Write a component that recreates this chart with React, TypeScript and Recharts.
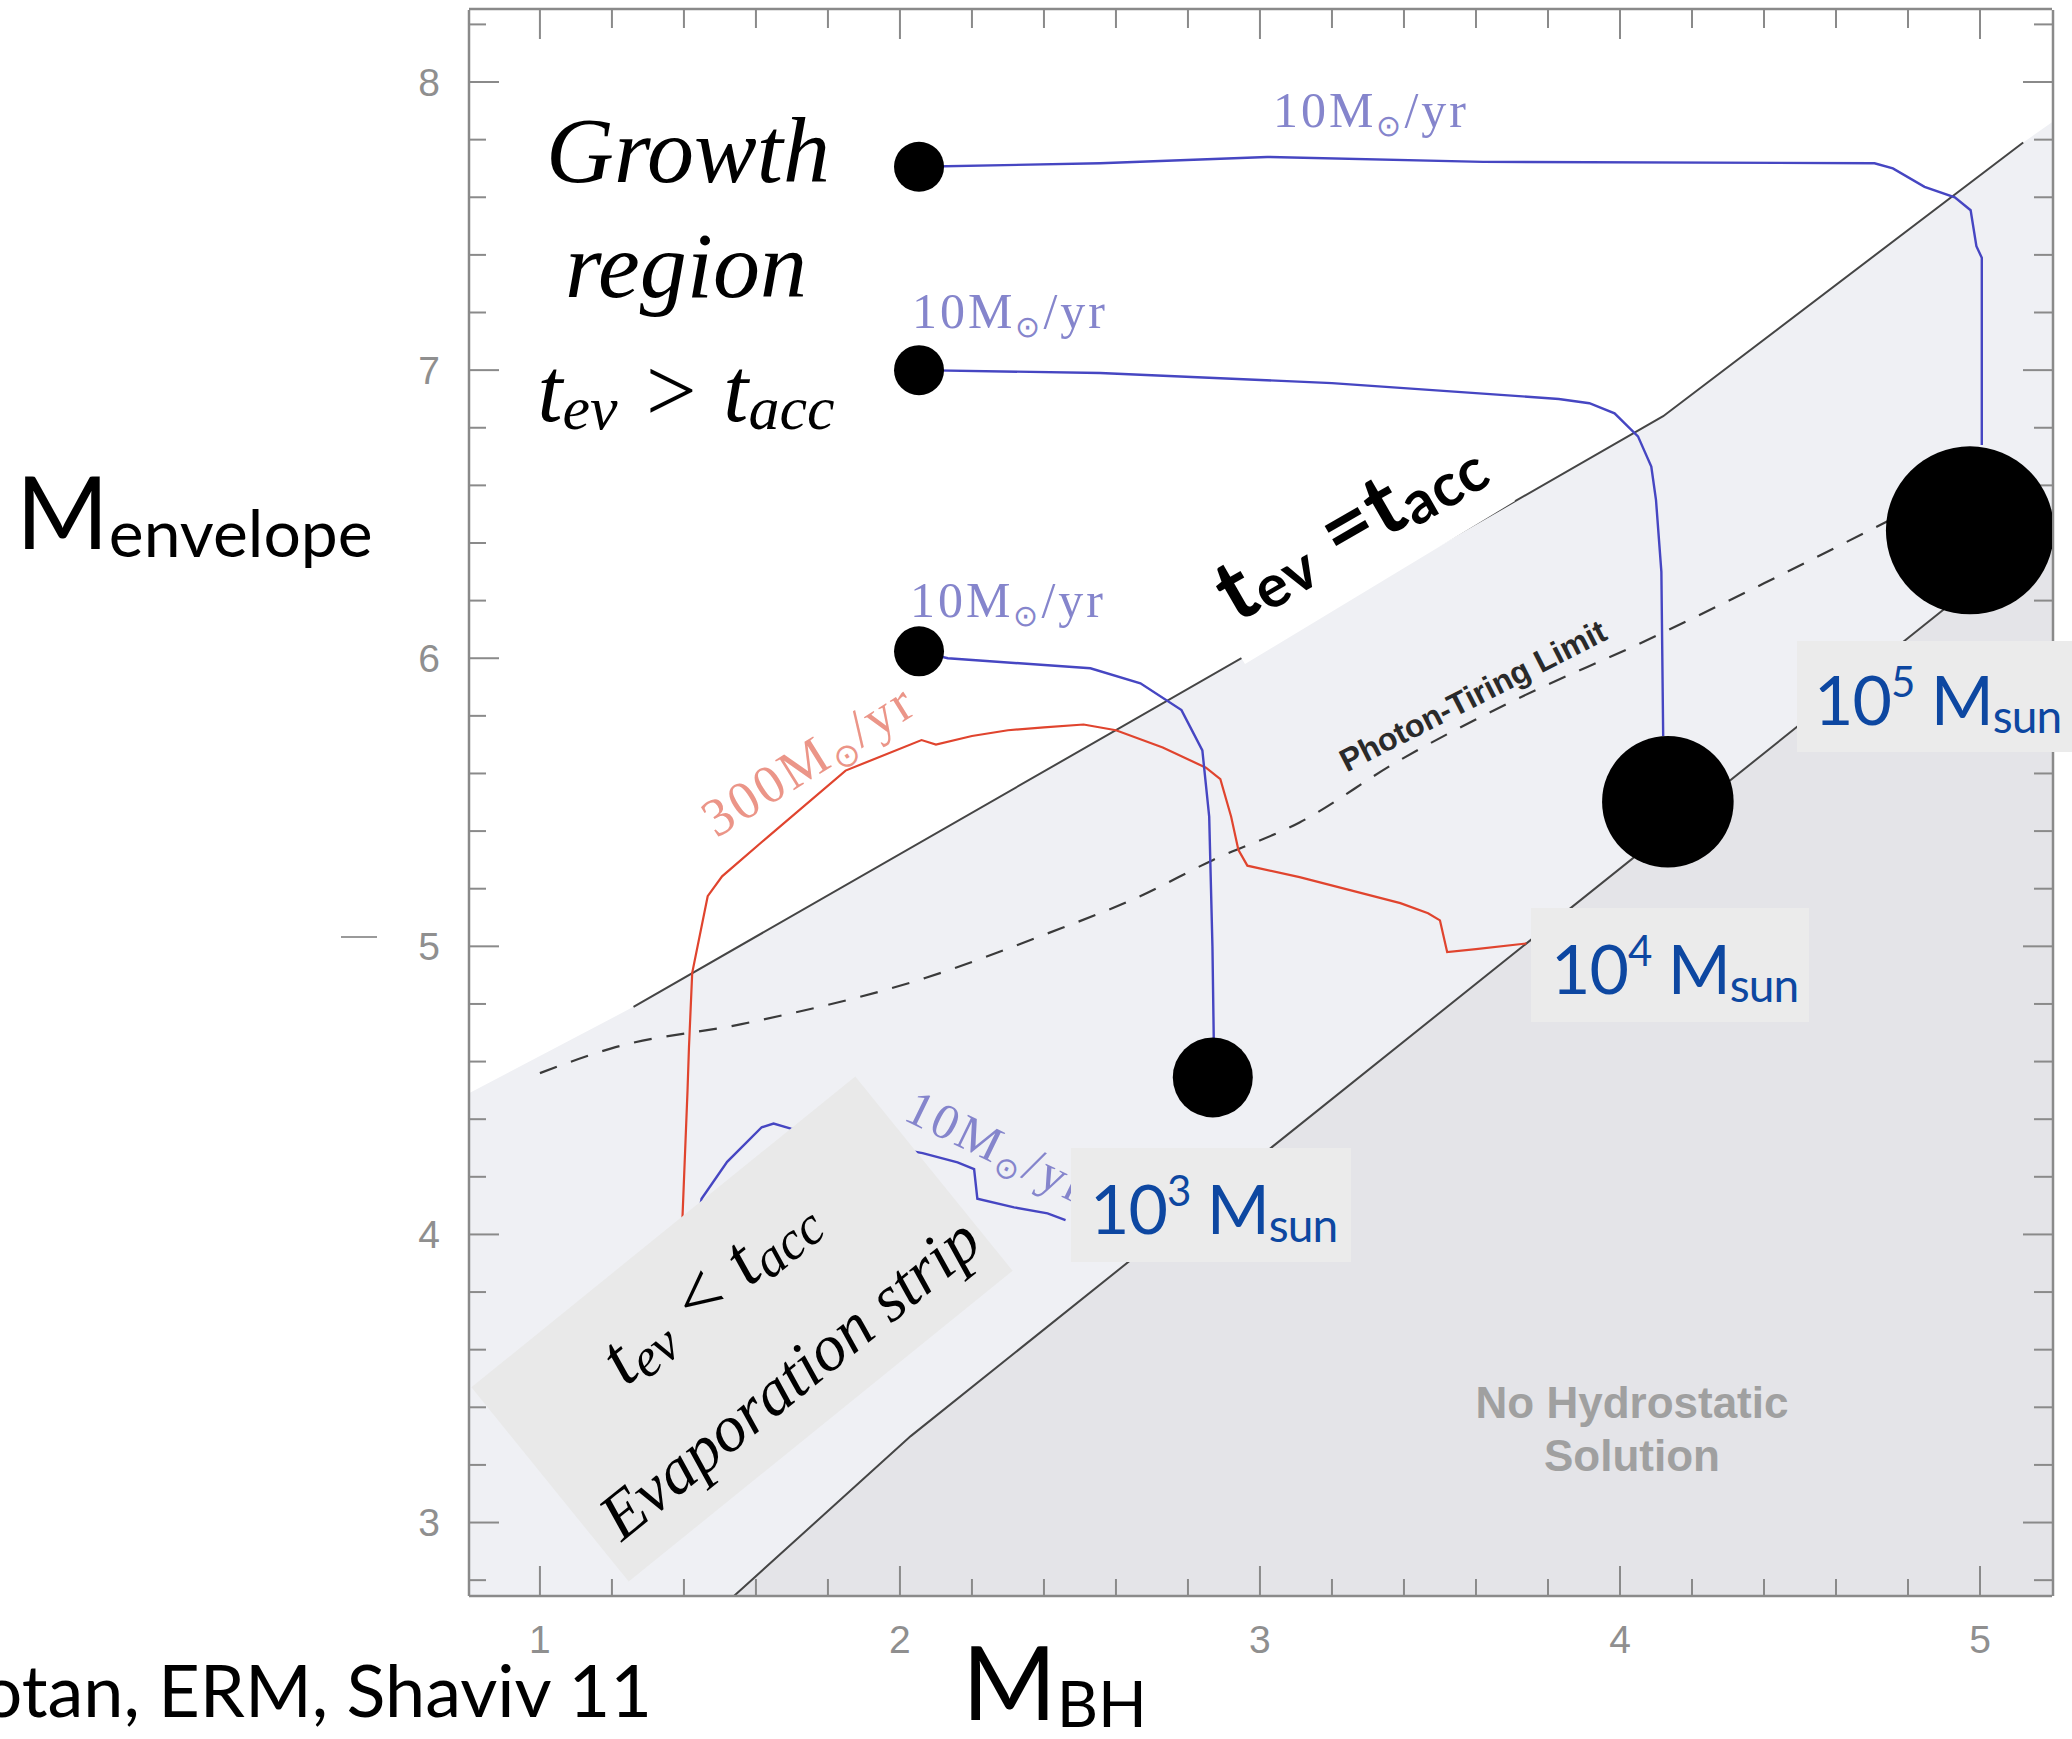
import React from "react";
import { ComposedChart, Line, Area, Scatter, XAxis, YAxis, ZAxis } from "recharts";

const W = 2072;
const H = 1739;

const xDomain: [number, number] = [0.803, 5.2];
const yDomain: [number, number] = [2.745, 8.25];

const xMajorTicks = [1, 2, 3, 4, 5];
const xMinorTicks = [1.2, 1.4, 1.6, 1.8, 2.2, 2.4, 2.6, 2.8, 3.2, 3.4, 3.6, 3.8, 4.2, 4.4, 4.6, 4.8];
const yMajorTicks = [3, 4, 5, 6, 7, 8];
const yMinorTicks = [2.8, 3.2, 3.4, 3.6, 3.8, 4.2, 4.4, 4.6, 4.8, 5.2, 5.4, 5.6, 5.8, 6.2, 6.4, 6.6, 6.8, 7.2, 7.4, 7.6, 7.8, 8.2];

// region edges
const growthBandEdge = [
  { x: 0.803, y: 4.49 },
  { x: 1.26, y: 4.79 },
  { x: 4.12, y: 6.84 },
  { x: 5.12, y: 7.79 },
  { x: 5.2, y: 7.86 },
];
const equalTimesLine = [
  { x: 1.26, y: 4.79 },
  { x: 4.12, y: 6.84 },
  { x: 5.12, y: 7.79 },
];
const hydrostaticEdge = [
  { x: 1.539, y: 2.745 },
  { x: 2.03, y: 3.3 },
  { x: 5.2, y: 6.47 },
];
const photonTiring = [
  { x: 1.0, y: 4.56 }, { x: 1.21, y: 4.65 }, { x: 1.56, y: 4.73 }, { x: 2.07, y: 4.89 },
  { x: 2.4, y: 5.04 }, { x: 2.66, y: 5.17 }, { x: 2.87, y: 5.3 }, { x: 3.11, y: 5.43 },
  { x: 3.38, y: 5.64 }, { x: 3.7, y: 5.85 }, { x: 4.07, y: 6.06 }, { x: 4.4, y: 6.26 },
  { x: 4.75, y: 6.48 }, { x: 5.0, y: 6.64 },
];

// evolution tracks
const trackTop = [
  { x: 2.053, y: 7.706 }, { x: 2.556, y: 7.718 }, { x: 3.02, y: 7.74 }, { x: 3.62, y: 7.723 },
  { x: 4.707, y: 7.718 }, { x: 4.758, y: 7.7 }, { x: 4.846, y: 7.636 }, { x: 4.93, y: 7.6 },
  { x: 4.974, y: 7.555 }, { x: 4.99, y: 7.43 }, { x: 5.005, y: 7.39 }, { x: 5.005, y: 6.74 },
];
const trackMid = [
  { x: 2.053, y: 7.0 }, { x: 2.556, y: 6.99 }, { x: 3.2, y: 6.955 }, { x: 3.83, y: 6.9 },
  { x: 3.915, y: 6.885 }, { x: 3.985, y: 6.85 }, { x: 4.05, y: 6.77 }, { x: 4.087, y: 6.665 },
  { x: 4.1, y: 6.55 }, { x: 4.115, y: 6.3 }, { x: 4.12, y: 5.73 },
];
const trackLow = [
  { x: 2.053, y: 6.024 }, { x: 2.133, y: 6.0 }, { x: 2.529, y: 5.965 }, { x: 2.668, y: 5.913 },
  { x: 2.782, y: 5.82 }, { x: 2.84, y: 5.68 }, { x: 2.859, y: 5.45 }, { x: 2.868, y: 5.0 },
  { x: 2.872, y: 4.65 },
];
const trackSmall = [
  { x: 1.44, y: 4.06 }, { x: 1.449, y: 4.124 }, { x: 1.52, y: 4.252 }, { x: 1.616, y: 4.372 },
  { x: 1.649, y: 4.385 }, { x: 1.697, y: 4.367 }, { x: 1.85, y: 4.33 }, { x: 2.063, y: 4.282 },
  { x: 2.16, y: 4.25 }, { x: 2.206, y: 4.227 }, { x: 2.215, y: 4.124 }, { x: 2.317, y: 4.094 },
  { x: 2.41, y: 4.073 }, { x: 2.46, y: 4.05 },
];
const track300 = [
  { x: 1.39, y: 3.9 }, { x: 1.396, y: 4.06 }, { x: 1.41, y: 4.5 }, { x: 1.414, y: 4.65 },
  { x: 1.423, y: 4.908 }, { x: 1.466, y: 5.174 }, { x: 1.506, y: 5.243 }, { x: 1.634, y: 5.381 },
  { x: 1.849, y: 5.61 }, { x: 2.06, y: 5.716 }, { x: 2.1, y: 5.7 }, { x: 2.2, y: 5.73 },
  { x: 2.3, y: 5.75 }, { x: 2.4, y: 5.76 }, { x: 2.51, y: 5.77 }, { x: 2.6, y: 5.75 },
  { x: 2.73, y: 5.69 }, { x: 2.85, y: 5.62 }, { x: 2.89, y: 5.58 }, { x: 2.92, y: 5.45 },
  { x: 2.94, y: 5.335 }, { x: 2.965, y: 5.28 }, { x: 3.11, y: 5.24 }, { x: 3.39, y: 5.15 },
  { x: 3.467, y: 5.115 }, { x: 3.5, y: 5.09 }, { x: 3.52, y: 4.98 }, { x: 3.6, y: 4.99 },
  { x: 3.74, y: 5.01 },
];

const startPoints = [
  { x: 2.053, y: 7.706 },
  { x: 2.053, y: 7.0 },
  { x: 2.053, y: 6.024 },
];
const finalHoles = [
  { x: 2.869, y: 4.545, logM: 3 },
  { x: 4.133, y: 5.502, logM: 4 },
  { x: 4.972, y: 6.444, logM: 5 },
];

const AXIS = "#8a8a8a";
const BLUE = "#4646c2";
const RED = "#e0442e";
const SERIF = "'Liberation Serif', 'Times New Roman', serif";
const SANS = "Lato, 'Noto Sans', sans-serif";

const tickFont = { fill: "#8f8f8f", fontSize: 39, fontFamily: "'Liberation Sans', Arial, sans-serif" };
const noLabel = () => <g />;
const tickStroke = { stroke: AXIS, strokeWidth: 2 };

const RateLabel = ({ x, y, rate, color, angle = 0, fontSize = 50 }: any) => (
  <text
    x={x}
    y={y}
    transform={`rotate(${angle} ${x} ${y})`}
    textAnchor="middle"
    fill={color}
    fontFamily={SERIF}
    fontSize={fontSize}
    letterSpacing={3}
  >
    {rate}M
    <tspan fontSize={fontSize * 0.6} dy={fontSize * 0.18}>⊙</tspan>
    <tspan dy={-fontSize * 0.18}>/yr</tspan>
  </text>
);

const MassLabel = ({ box, tx, ty, exp }: any) => (
  <g>
    <rect x={box[0]} y={box[1]} width={box[2]} height={box[3]} fill="#ebebeb" />
    <text x={tx} y={ty} fill="#0d47a1" fontFamily={SANS} fontSize={68} letterSpacing={-1}>
      10
      <tspan fontSize={42} dy={-28}>{exp}</tspan>
      <tspan fontSize={68} dy={28}> M</tspan>
      <tspan fontSize={46} dy={8}>sun</tspan>
    </text>
  </g>
);

const Overlay = () => (
  <svg width={W} height={H} style={{ position: "absolute", left: 0, top: 0, pointerEvents: "none" }}>
    {/* t_ev = t_acc label with its white backing */}
    <polygon points="1245,664 1515,501 1462,414 1192,577" fill="#ffffff" />
    <g transform="translate(1236,624) rotate(-30)">
      <text x={0} y={0} fill="#000" fontFamily={SANS} fontWeight="bold" fontSize={86} letterSpacing={1}>
        t<tspan fontSize={60} dy={6}>ev</tspan>
        <tspan fontSize={86} dy={-6}> =t</tspan>
        <tspan fontSize={60} dy={6}>acc</tspan>
      </text>
    </g>

    <RateLabel x={1371} y={127} rate="10" color="#8585cc" />
    <RateLabel x={1010} y={328} rate="10" color="#8585cc" />
    <RateLabel x={1008} y={617} rate="10" color="#8585cc" />
    <RateLabel x={990} y={1162} rate="10" color="#8585cc" angle={26} />
    <RateLabel x={818} y={775} rate="300" color="#eb9588" angle={-32} fontSize={54} />

    <g transform="translate(1476,702) rotate(-27)">
      <text x={0} y={4} textAnchor="middle" fill="#2a2a2a" fontWeight="bold" fontSize={32}
        fontFamily="'Liberation Sans', Arial, sans-serif">
        Photon-Tiring Limit
      </text>
    </g>

    <text x={1632} y={1418} textAnchor="middle" fill="#a0a0a0" fontWeight="bold" fontSize={44}
      fontFamily="'Liberation Sans', Arial, sans-serif">No Hydrostatic</text>
    <text x={1632} y={1471} textAnchor="middle" fill="#a0a0a0" fontWeight="bold" fontSize={44}
      fontFamily="'Liberation Sans', Arial, sans-serif">Solution</text>

    {/* growth region note */}
    <g fill="#000" fontFamily={SERIF} fontStyle="italic" textAnchor="middle">
      <text x={688} y={182} fontSize={94}>Growth</text>
      <text x={686} y={297} fontSize={94}>region</text>
      <text x={686} y={421} fontSize={90}>
        t<tspan fontSize={62} dy={8}>ev</tspan>
        <tspan fontSize={90} dy={-8}> &gt; t</tspan>
        <tspan fontSize={62} dy={8}>acc</tspan>
      </text>
    </g>

    {/* evaporation strip */}
    <g transform="translate(742,1329) rotate(-39)">
      <rect x={-247} y={-125} width={494} height={250} fill="#e9e9e9" />
      <g fill="#000" fontFamily={SERIF} fontStyle="italic" textAnchor="middle">
        <text x={0} y={-28} fontSize={76}>
          t<tspan fontSize={54} dy={8}>ev</tspan>
          <tspan fontSize={76} dy={-8}> &lt; t</tspan>
          <tspan fontSize={54} dy={8}>acc</tspan>
        </text>
        <text x={6} y={90} fontSize={66}>Evaporation strip</text>
      </g>
    </g>

    <MassLabel box={[1071, 1148, 280, 114]} tx={1090} ty={1234} exp="3" />
    <MassLabel box={[1531, 908, 278, 114]} tx={1551} ty={994} exp="4" />
    <MassLabel box={[1797, 641, 275, 111]} tx={1814} ty={725} exp="5" />

    {/* axis titles and citation */}
    <text x={16} y={549} fill="#000" fontFamily={SANS}>
      <tspan fontSize={100}>M</tspan>
      <tspan fontSize={66} dy={8}>envelope</tspan>
    </text>
    <text x={962} y={1720} fill="#000" fontFamily={SANS}>
      <tspan fontSize={102}>M</tspan>
      <tspan fontSize={64} dy={7}>BH</tspan>
    </text>
    <text x={652} y={1717} textAnchor="end" fill="#000" fontFamily={SANS} fontSize={72}>
      Dotan, ERM, Shaviv 11
    </text>
    <line x1={341} y1={937} x2={377} y2={937} stroke="#9a9a9a" strokeWidth={2} />
  </svg>
);

const App: React.FC = () => (
  <div style={{ position: "absolute", left: 0, top: 0, width: W, height: H, background: "#fff" }}>
    <ComposedChart width={W} height={H} margin={{ top: 8, right: 18, bottom: 141, left: 467 }}>
      <Area data={growthBandEdge} dataKey="y" type="linear" fill="#eff0f4" fillOpacity={1}
        xAxisId="xTop" stroke="none" activeDot={false} isAnimationActive={false} />
      <Area data={hydrostaticEdge} dataKey="y" type="linear" fill="#e4e4e8" fillOpacity={1}
        xAxisId="xMinorB" stroke="none" activeDot={false} isAnimationActive={false} />

      <Line data={equalTimesLine} dataKey="y" type="linear" stroke="#454545" strokeWidth={2}
        dot={false} activeDot={false} isAnimationActive={false} />
      <Line data={hydrostaticEdge} dataKey="y" type="linear" stroke="#454545" strokeWidth={2}
        dot={false} activeDot={false} isAnimationActive={false} />
      <Line data={photonTiring} dataKey="y" type="monotone" stroke="#3a3a3a" strokeWidth={2.2}
        xAxisId="xMinorT" strokeDasharray="18 15" dot={false} activeDot={false} isAnimationActive={false} />

      <Line data={track300} dataKey="y" type="linear" stroke={RED} strokeWidth={2.2}
        dot={false} activeDot={false} isAnimationActive={false} />
      <Line data={trackTop} dataKey="y" type="linear" stroke={BLUE} strokeWidth={2.4}
        dot={false} activeDot={false} isAnimationActive={false} />
      <Line data={trackMid} dataKey="y" type="linear" stroke={BLUE} strokeWidth={2.4}
        dot={false} activeDot={false} isAnimationActive={false} />
      <Line data={trackLow} dataKey="y" type="linear" stroke={BLUE} strokeWidth={2.4}
        dot={false} activeDot={false} isAnimationActive={false} />
      <Line data={trackSmall} dataKey="y" type="linear" stroke={BLUE} strokeWidth={2.4}
        dot={false} activeDot={false} isAnimationActive={false} />

      <ZAxis zAxisId="mass" dataKey="logM" type="number" domain={[3, 5]} range={[5027, 22167]} />
      <Scatter data={startPoints} isAnimationActive={false}
        shape={(p: any) => <circle cx={p.cx} cy={p.cy} r={25} fill="#000" />} />
      <Scatter data={finalHoles} zAxisId="mass" isAnimationActive={false}
        shape={(p: any) => {
          const r = p.size ? Math.sqrt(p.size / Math.PI) : (p.width || 80) / 2;
          return <circle cx={p.cx} cy={p.cy} r={r} fill="#000" />;
        }} />

      <XAxis dataKey="x" type="number" domain={xDomain} allowDataOverflow ticks={xMajorTicks}
        interval={0} height={1} tickSize={-30} tickMargin={59} tick={tickFont}
        axisLine={{ stroke: AXIS, strokeWidth: 2.5 }} tickLine={tickStroke} />
      <XAxis xAxisId="xMinorB" dataKey="x" type="number" domain={xDomain} allowDataOverflow
        ticks={xMinorTicks} interval={0} height={1} tickSize={-18} tick={noLabel} axisLine={false}
        tickLine={tickStroke} />
      <XAxis xAxisId="xTop" dataKey="x" orientation="top" type="number" domain={xDomain} allowDataOverflow
        ticks={xMajorTicks} interval={0} height={1} tickSize={-30} tick={noLabel}
        axisLine={{ stroke: AXIS, strokeWidth: 2.5 }} tickLine={tickStroke} />
      <XAxis xAxisId="xMinorT" dataKey="x" orientation="top" type="number" domain={xDomain} allowDataOverflow
        ticks={xMinorTicks} interval={0} height={1} tickSize={-18} tick={noLabel} axisLine={false}
        tickLine={tickStroke} />

      <YAxis dataKey="y" type="number" domain={yDomain} allowDataOverflow ticks={yMajorTicks}
        interval={0} width={1} tickSize={-30} tickMargin={59} tick={tickFont}
        axisLine={{ stroke: AXIS, strokeWidth: 2.5 }} tickLine={tickStroke} />
      <YAxis yAxisId="yMinorL" type="number" domain={yDomain} allowDataOverflow ticks={yMinorTicks}
        interval={0} width={1} tickSize={-18} tick={noLabel} axisLine={false} tickLine={tickStroke} />
      <YAxis yAxisId="yRight" orientation="right" type="number" domain={yDomain} allowDataOverflow
        ticks={yMajorTicks} interval={0} width={1} tickSize={-30} tick={noLabel}
        axisLine={{ stroke: AXIS, strokeWidth: 2.5 }} tickLine={tickStroke} />
      <YAxis yAxisId="yMinorR" orientation="right" type="number" domain={yDomain} allowDataOverflow
        ticks={yMinorTicks} interval={0} width={1} tickSize={-18} tick={noLabel} axisLine={false}
        tickLine={tickStroke} />
    </ComposedChart>
    <Overlay />
  </div>
);

export default App;
